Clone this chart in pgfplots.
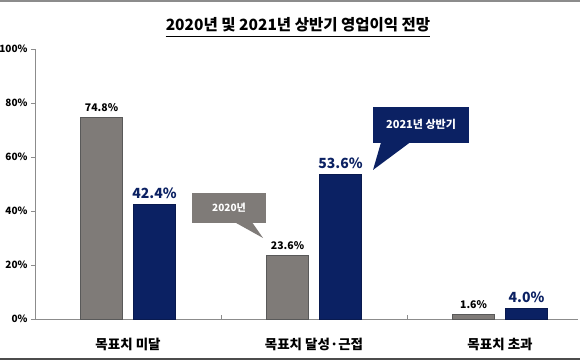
\documentclass[border=0pt]{standalone}
\usepackage{fontspec}
\setmainfont{Noto Sans CJK KR}
\usepackage{pgfplots}
\pgfplotsset{compat=1.18}
\definecolor{navy}{HTML}{0B2163}
\definecolor{barGray}{HTML}{7F7B78}
\definecolor{axGray}{HTML}{8C8C8C}

\begin{document}
\begin{tikzpicture}
\useasboundingbox (-35pt,-41pt) rectangle (545pt,319pt);
\draw[line width=2pt, color=axGray] (-35pt,318.5pt) -- (545pt,318.5pt);
\draw[line width=1.5pt, color=black!70] (-35pt,-40pt) -- (545pt,-40pt);
\node[font=\fontsize{15.5}{18}\selectfont\bfseries, inner sep=0pt] (t) at (263pt,294pt) {2020년 및 2021년 상반기 영업이익 전망};
\draw[line width=1pt] (t.west |- 0,283pt) -- (t.east |- 0,283pt);

\begin{axis}[
  at={(0,0)}, anchor=south west,
  scale only axis, width=543pt, height=270pt,
  xmin=-0.5, xmax=2.419, ymin=0, ymax=100,
  axis x line=bottom, axis y line=left,
  axis line style={-, draw=axGray, line width=0.8pt},
  /pgf/number format/assume math mode=true,
  ytick={0,20,...,100},
  yticklabel={\pgfmathprintnumber{\tick}\%},
  yticklabel style={font=\fontsize{10}{12}\selectfont\bfseries},
  y tick style={draw=axGray, line width=0.6pt},
  major tick length=4pt,
  tick align=outside,
  xtick={0,1,2},
  xticklabels={목표치 미달, 목표치 달성·근접, 목표치 초과},
  xticklabel style={font=\fontsize{13.5}{15}\selectfont\bfseries, anchor=center, yshift=-21pt},
  x tick style={draw=none},
  extra x ticks={0.5,1.5},
  extra x tick labels={},
  extra x tick style={tick align=inside, x tick style={draw=axGray, line width=0.6pt}},
  ybar=11pt, bar width=42pt,
  clip=false,
]
\addplot[fill=barGray, draw=black!65, line width=0.6pt,
  nodes near coords={\pgfmathprintnumber[fixed,fixed zerofill,precision=1]{\pgfplotspointmeta}\%},
  nodes near coords style={font=\fontsize{10.5}{12}\selectfont\bfseries, text=black, yshift=2pt},
  point meta=explicit]
  coordinates {(0,74.8) [74.8] (1,23.6) [23.6] (2,1.6) [1.6]};
\addplot[fill=navy, draw=navy!80!black, line width=0.6pt,
  nodes near coords={\pgfmathprintnumber[fixed,fixed zerofill,precision=1]{\pgfplotspointmeta}\%},
  nodes near coords style={font=\fontsize{14}{16}\selectfont\bfseries, text=navy, yshift=2pt},
  point meta=explicit]
  coordinates {(0,42.4) [42.4] (1,53.6) [53.6] (2,4.0) [4.0]};

\fill[barGray] (axis cs:0.344,35.6) rectangle (axis cs:0.742,46.7);
\fill[barGray] (axis cs:0.575,35.8) -- (axis cs:0.726,30) -- (axis cs:0.667,35.8) -- cycle;
\node[text=white, font=\fontsize{10}{12}\selectfont\bfseries] at (axis cs:0.543,41.2) {2020년};

\fill[navy] (axis cs:1.317,65.2) rectangle (axis cs:1.833,78.5);
\fill[navy] (axis cs:1.36,65.4) -- (axis cs:1.317,55.2) -- (axis cs:1.516,65.4) -- cycle;
\node[text=white, font=\fontsize{11}{13}\selectfont\bfseries] at (axis cs:1.575,71.9) {2021년 상반기};
\end{axis}
\end{tikzpicture}
\end{document}
